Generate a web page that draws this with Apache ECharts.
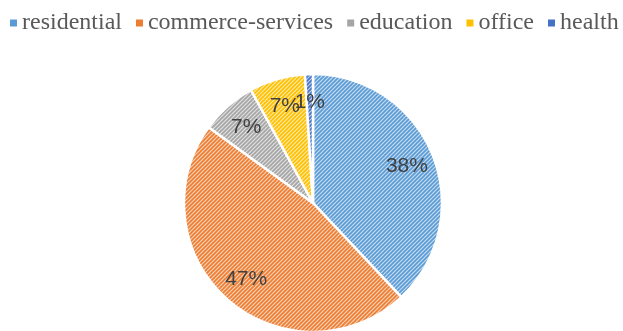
<!DOCTYPE html>
<html>
<head>
<meta charset="utf-8">
<script src="https://cdn.jsdelivr.net/npm/echarts@6/dist/echarts.min.js"></script>
<style>
  html, body { margin: 0; padding: 0; background: #fff; }
  #chart { width: 623px; height: 331px; }
</style>
</head>
<body>
<div id="chart"></div>
<script>
// Building use shares
const categories = ['residential', 'commerce-services', 'education', 'office', 'health'];
const shares = [38, 47, 7, 7, 1];
const baseColors = ['#5B9BD5', '#ED7D31', '#A5A5A5', '#FFC000', '#4472C4'];

// Diagonal hatch fill: coloured stripes on a pale tint
function hatch(color) {
  const size = 4;
  const c = document.createElement('canvas');
  c.width = size; c.height = size;
  const ctx = c.getContext('2d');
  ctx.fillStyle = '#ffffff';
  ctx.fillRect(0, 0, size, size);
  ctx.globalAlpha = 0.35;
  ctx.fillStyle = color;
  ctx.fillRect(0, 0, size, size);
  ctx.globalAlpha = 1;
  ctx.strokeStyle = color;
  ctx.lineWidth = 1.6;
  ctx.beginPath();
  ctx.moveTo(-1, size + 1); ctx.lineTo(size + 1, -1);
  ctx.moveTo(-1 - size, size + 1); ctx.lineTo(1, -1);
  ctx.moveTo(size - 1, size + 1); ctx.lineTo(2 * size + 1, -1);
  ctx.stroke();
  return { image: c, repeat: 'repeat' };
}

const pieData = categories.map((name, i) => ({
  name: name,
  value: shares[i],
  itemStyle: { color: hatch(baseColors[i]) }
}));

const labelData = categories.map((name, i) => ({ name: name, value: shares[i] }));

const chart = echarts.init(document.getElementById('chart'), null, { renderer: 'canvas' });
chart.setOption({
  animation: false,
  color: baseColors,
  legend: {
    data: categories.map((name, i) => ({
      name: name,
      itemStyle: { color: baseColors[i], borderWidth: 0 }
    })),
    left: 10,
    top: 11,
    padding: 0,
    icon: 'rect',
    itemWidth: 7,
    itemHeight: 7,
    itemGap: 14,
    textStyle: { fontFamily: 'Liberation Serif', fontSize: 24, color: '#595959' }
  },
  series: [
    {
      type: 'pie',
      center: [313, 203],
      radius: [0, 129],
      startAngle: 90,
      clockwise: true,
      data: pieData,
      label: { show: false },
      labelLine: { show: false },
      itemStyle: { borderColor: '#ffffff', borderWidth: 2.5 },
      emphasis: { disabled: true }
    },
    {
      // percentage labels, placed well out towards the rim
      type: 'pie',
      center: [313, 203],
      radius: [66, 130],
      startAngle: 90,
      clockwise: true,
      silent: true,
      avoidLabelOverlap: false,
      minShowLabelAngle: 0,
      data: labelData,
      itemStyle: { color: 'rgba(0,0,0,0)' },
      label: {
        show: true,
        position: 'inside',
        formatter: '{c}%',
        fontFamily: 'Liberation Sans',
        fontSize: 21,
        color: '#404040'
      },
      labelLayout: { hideOverlap: false },
      labelLine: { show: false },
      emphasis: { disabled: true }
    }
  ]
});
</script>
</body>
</html>
